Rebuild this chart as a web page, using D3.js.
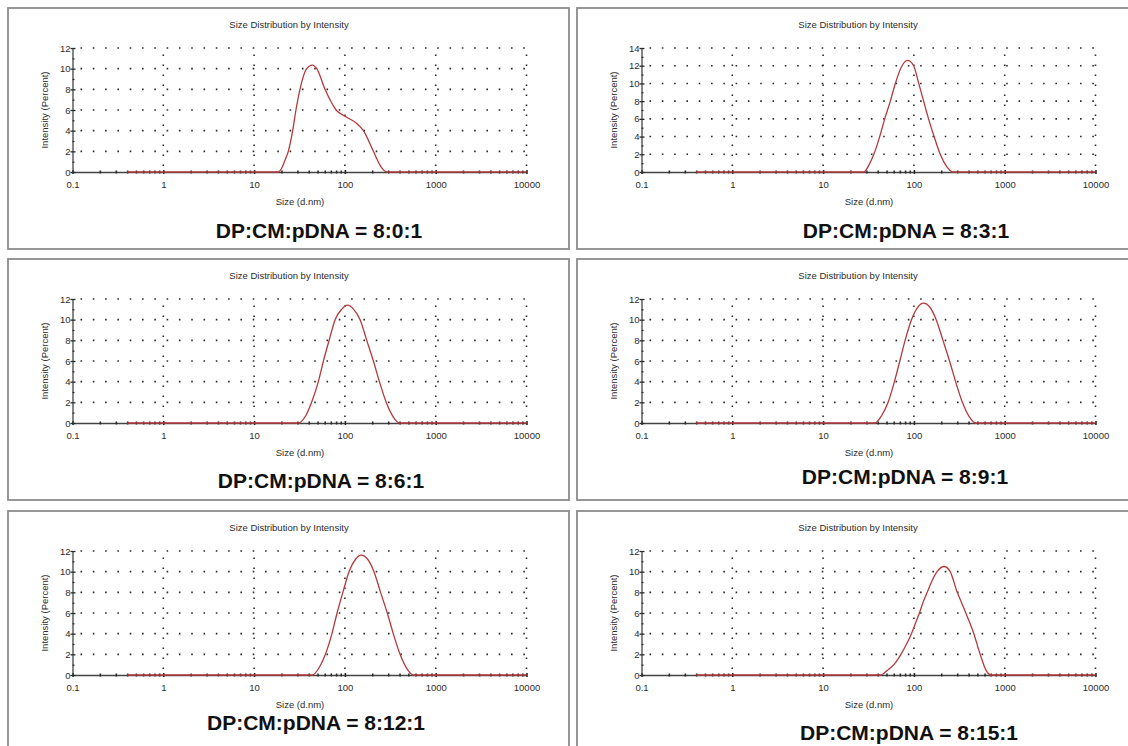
<!DOCTYPE html>
<html>
<head>
<meta charset="utf-8">
<script src="https://cdn.jsdelivr.net/npm/d3@7"></script>
<style>
  body { margin: 0; background: #fff; }
  svg { display: block; font-family: "Liberation Sans", Arial, sans-serif; }
</style>
</head>
<body>
<div id="chart"></div>
<script>
// tick values shared by every panel
var sizeTicks = [0.1, 1, 10, 100, 1000, 10000];
var yMaxes = [12, 14, 12, 12, 12, 12];
var ratioLabels = [
  "DP:CM:pDNA = 8:0:1", "DP:CM:pDNA = 8:3:1",
  "DP:CM:pDNA = 8:6:1", "DP:CM:pDNA = 8:9:1",
  "DP:CM:pDNA = 8:12:1", "DP:CM:pDNA = 8:15:1"
];

// size (d.nm) and intensity (%)
var sizes801 = [0.4, 18.5, 20.5, 22, 23.8, 26.6, 28.9, 32, 37.9, 43.8, 49, 60.4, 80, 105, 135, 160, 206, 250, 290, 10000];
var intensity801 = [0, 0, 0.5, 1.2, 2, 4, 6, 8, 10, 10.35, 10, 8, 6, 5.3, 4.7, 4, 2, 0.5, 0, 0];

var sizes831 = [0.4, 28, 32, 36.2, 42, 47.7, 55, 62.5, 74, 85.4, 99.3, 113, 128, 145, 167, 195, 230, 268, 10000];
var intensity831 = [0, 0, 0.8, 2, 4, 6, 8, 10, 12, 12.6, 12, 10, 8, 6, 4, 2, 0.6, 0, 0];

var sizes861 = [0.4, 30.7, 37, 43, 51, 58, 67, 78, 92, 106.6, 125, 147, 174, 206, 240, 285, 340, 400, 10000];
var intensity861 = [0, 0, 0.7, 2, 4, 6, 8, 10, 11, 11.4, 11, 10, 8, 6, 4, 2, 0.6, 0, 0];

var sizes891 = [0.4, 37, 44, 52, 61, 70, 80, 94, 110, 128, 150, 176, 209, 247, 288, 342, 408, 480, 10000];
var intensity891 = [0, 0, 0.7, 2, 4, 6, 8, 10, 11.2, 11.6, 11.2, 10, 8, 6, 4, 2, 0.6, 0, 0];

var sizes8121 = [0.4, 43.6, 52, 61, 72, 82, 95, 111, 131, 151, 178, 209, 247, 293, 341, 405, 483, 568, 10000];
var intensity8121 = [0, 0, 0.7, 2, 4, 6, 8, 10, 11.2, 11.6, 11.2, 10, 8, 6, 4, 2, 0.6, 0, 0];

var sizes8151 = [0.4, 43.6, 50, 57, 64, 72, 83, 94, 104, 115, 127, 140, 160, 180, 215, 251, 300, 335, 373, 415, 457, 537, 620, 706, 10000];
var intensity8151 = [0, 0, 0.4, 0.8, 1.3, 2, 3, 4, 5, 6, 7.1, 8, 9.2, 10, 10.5, 10, 8, 7, 6, 5, 4, 2, 0.5, 0, 0];

var seriesSizes = [sizes801, sizes831, sizes861, sizes891, sizes8121, sizes8151];
var seriesIntensity = [intensity801, intensity831, intensity861, intensity891, intensity8121, intensity8151];

// layout
var svgWidth = 1128, svgHeight = 746;
var panelW = 561, panelH = 241;
var panelPos = [[8, 8], [577, 8], [8, 259], [577, 259], [8, 511], [577, 511]];
var labelPos = [[311, 230], [329, 230], [313, 229], [328, 225], [308, 219], [332, 229]];
var plot = { left: 64.5, right: 518.5, top: 40, bottom: 164 };
var red = "#b5393b";
var ink = "#2b2b2b";

var svg = d3.select("#chart").append("svg")
  .attr("width", svgWidth)
  .attr("height", svgHeight);

ratioLabels.forEach(function(label, i) {
  var g = svg.append("g")
    .attr("transform", `translate(${panelPos[i][0]}, ${panelPos[i][1]})`);

  // panel frame
  g.append("rect")
    .attr("x", 0).attr("y", 0)
    .attr("width", panelW).attr("height", panelH)
    .attr("fill", "none")
    .attr("stroke", "#8c8c8c")
    .attr("stroke-width", 1.8);

  var x = d3.scaleLog().domain([0.1, 10000]).range([plot.left, plot.right]);
  var y = d3.scaleLinear().domain([0, yMaxes[i]]).range([plot.bottom, plot.top]);

  // dotted grid
  var yGrid = d3.range(2, yMaxes[i] + 1, 2);
  g.selectAll(".hgrid").data(yGrid).enter().append("line")
    .attr("x1", plot.left + 8).attr("x2", plot.right)
    .attr("y1", d => y(d)).attr("y2", d => y(d))
    .attr("stroke", ink).attr("stroke-width", 1.6)
    .attr("stroke-dasharray", "1.6 10.7");

  g.selectAll(".vgrid").data(sizeTicks.slice(1)).enter().append("line")
    .attr("x1", d => x(d)).attr("x2", d => x(d))
    .attr("y1", plot.bottom - 6).attr("y2", plot.top)
    .attr("stroke", ink).attr("stroke-width", 1.6)
    .attr("stroke-dasharray", "1.6 8.4");

  // x axis: decades labelled, minor ticks 2..9
  var minor = [];
  sizeTicks.slice(0, -1).forEach(function(d) {
    d3.range(2, 10).forEach(function(m) { minor.push(d * m); });
  });

  var xAxis = g.append("g")
    .attr("transform", `translate(0, ${plot.bottom})`)
    .call(d3.axisBottom(x).tickValues(sizeTicks).tickFormat(d => String(d))
      .tickSizeInner(2).tickSizeOuter(0).tickPadding(7));
  xAxis.select(".domain").attr("stroke", "#444").attr("stroke-width", 1.3);
  xAxis.selectAll(".tick line").attr("stroke", ink).attr("stroke-width", 1.6)
    .attr("y1", -2);
  xAxis.selectAll("text").attr("font-size", 9.5).attr("fill", ink)
    .attr("font-family", "Liberation Sans, Arial, sans-serif");

  g.append("g")
    .attr("transform", `translate(0, ${plot.bottom})`)
    .call(d3.axisBottom(x).tickValues(minor).tickFormat("").tickSizeInner(1.5).tickSizeOuter(0))
    .call(a => a.select(".domain").remove())
    .selectAll(".tick line").attr("stroke", ink).attr("stroke-width", 1.6).attr("y1", -1.5);

  // y axis
  var yAxis = g.append("g")
    .attr("transform", `translate(${plot.left}, 0)`)
    .call(d3.axisLeft(y).tickValues(d3.range(0, yMaxes[i] + 1, 2))
      .tickSizeInner(-3).tickSizeOuter(0).tickPadding(2));
  yAxis.select(".domain").attr("stroke", "#444").attr("stroke-width", 1.3);
  yAxis.selectAll(".tick line").attr("stroke", ink).attr("stroke-width", 1.3).attr("x1", -2);
  yAxis.selectAll("text").attr("font-size", 9.5).attr("fill", ink)
    .attr("font-family", "Liberation Sans, Arial, sans-serif");

  g.append("g")
    .attr("transform", `translate(${plot.left}, 0)`)
    .call(d3.axisLeft(y).tickValues(d3.range(1, yMaxes[i], 2)).tickFormat("")
      .tickSizeInner(-2).tickSizeOuter(0))
    .call(a => a.select(".domain").remove())
    .selectAll(".tick line").attr("stroke", ink).attr("stroke-width", 1.2);

  // distribution curve
  var pts = seriesSizes[i].map((s, k) => [s, seriesIntensity[i][k]]);
  var line = d3.line()
    .x(d => x(d[0]))
    .y(d => y(d[1]))
    .curve(d3.curveMonotoneX);

  g.append("path")
    .datum(pts)
    .attr("d", line)
    .attr("fill", "none")
    .attr("stroke", red)
    .attr("stroke-width", 1.3);

  // texts
  g.append("text")
    .attr("x", 281).attr("y", 19.5)
    .attr("text-anchor", "middle")
    .attr("font-size", 9.5).attr("fill", ink)
    .text("Size Distribution by Intensity");

  g.append("text")
    .attr("x", 292).attr("y", 196.5)
    .attr("text-anchor", "middle")
    .attr("font-size", 9.5).attr("fill", ink)
    .text("Size (d.nm)");

  g.append("text")
    .attr("transform", `translate(40, ${(plot.top + plot.bottom) / 2}) rotate(-90)`)
    .attr("text-anchor", "middle")
    .attr("font-size", 9.5).attr("fill", ink)
    .text("Intensity (Percent)");

  g.append("text")
    .attr("x", labelPos[i][0]).attr("y", labelPos[i][1])
    .attr("text-anchor", "middle")
    .attr("font-size", 21).attr("font-weight", "bold").attr("fill", "#111")
    .text(label);
});
</script>
</body>
</html>
